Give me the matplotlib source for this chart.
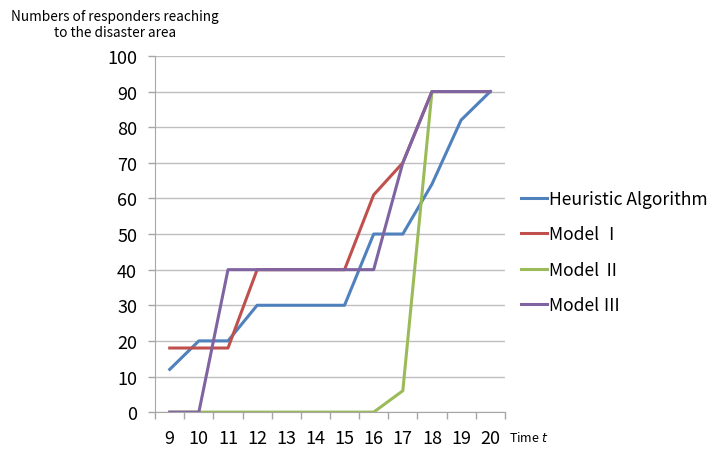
import matplotlib
matplotlib.use("Agg")
import matplotlib.pyplot as plt
from matplotlib.ticker import MultipleLocator

plt.rcParams['font.family'] = ['Noto Sans CJK KR', 'DejaVu Sans']

# data
time = [9, 10, 11, 12, 13, 14, 15, 16, 17, 18, 19, 20]
heuristic = [12, 20, 20, 30, 30, 30, 30, 50, 50, 64, 82, 90]
model_1 = [18, 18, 18, 40, 40, 40, 40, 61, 70, 90, 90, 90]
model_2 = [0, 0, 0, 0, 0, 0, 0, 0, 6, 90, 90, 90]
model_3 = [0, 0, 40, 40, 40, 40, 40, 40, 70, 90, 90, 90]
labels = ['Heuristic Algorithm', 'Model Ⅰ', 'Model Ⅱ', 'Model Ⅲ']
colors = ['#4F81BD', '#C0504D', '#9BBB59', '#8064A2']

fig = plt.figure(figsize=(7.15, 4.52), dpi=100)
ax = fig.add_axes([0.217, 0.086, 0.489, 0.788])

series = [heuristic, model_1, model_2, model_3]
for vals, lab, col in zip(series, labels, colors):
    ax.plot(time, vals, color=col, linewidth=2.2, label=lab, solid_joinstyle='round')

ax.set_xlim(8.5, 20.5)
ax.set_ylim(0, 100)
ax.yaxis.set_major_locator(MultipleLocator(10))
ax.set_xticks(time)
ax.set_xticks([t + 0.5 for t in [8] + time], minor=True)
ax.tick_params(axis='x', which='major', length=0, pad=12, labelsize=13)
ax.tick_params(axis='x', which='minor', length=5, color='#a6a6a6', width=1)
ax.tick_params(axis='y', length=5, color='#a6a6a6', width=1, pad=8, labelsize=13)

ax.grid(axis='y', color='#bfbfbf', linewidth=1)
ax.set_axisbelow(True)
for side in ['top', 'right']:
    ax.spines[side].set_visible(False)
ax.spines['left'].set_color('#a6a6a6')
ax.spines['bottom'].set_color('#a6a6a6')

fig.text(0.161, 0.945, 'Numbers of responders reaching\nto the disaster area',
         ha='center', va='center', fontsize=9.8, linespacing=1.2)
fig.text(0.712, 0.032, 'Time $\\it{t}$', ha='left', va='center', fontsize=9)

leg = ax.legend(loc='center left', bbox_to_anchor=(0.728, 0.44),
                bbox_transform=fig.transFigure, frameon=False, fontsize=12.6,
                handlelength=1.5, handletextpad=0.15, labelspacing=1.0,
                borderpad=0, borderaxespad=0)

fig.savefig('out.png', dpi=100)
